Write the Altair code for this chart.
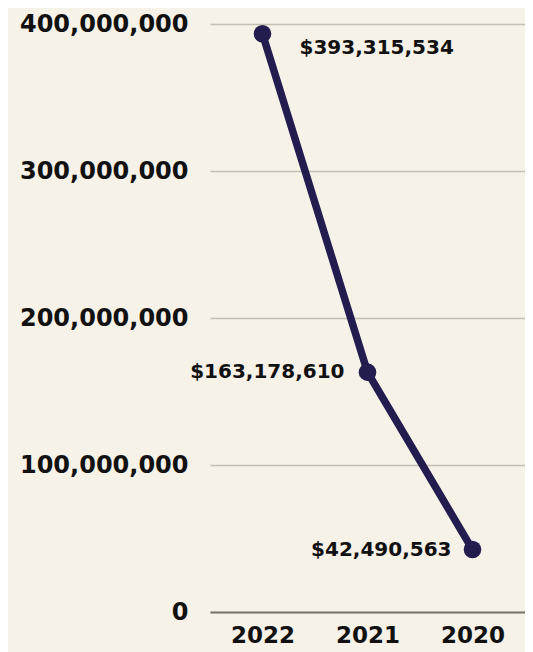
import altair as alt
import pandas as pd

years = ["2022", "2021", "2020"]
values = [393315534, 163178610, 42490563]
labels = ["$393,315,534", "$163,178,610", "$42,490,563"]

df = pd.DataFrame({"year": years, "value": values, "label": labels})

FONT = "DejaVu Sans"
NAVY = "#231c4e"
INK = "#111111"

x = alt.X("year:N", sort=years, title=None,
          scale=alt.Scale(type="point", padding=0.5),
          axis=alt.Axis(labelAngle=0, labelFontSize=23, labelFontWeight="bold",
                        labelColor=INK, labelFont=FONT, ticks=False,
                        domainColor="#7a766e", domainWidth=2, labelPadding=12))
y = alt.Y("value:Q", title=None,
          scale=alt.Scale(domain=[0, 400000000]),
          axis=alt.Axis(values=[0, 100000000, 200000000, 300000000, 400000000],
                        format=",d", labelFontSize=24, labelFontWeight="bold",
                        labelColor=INK, labelFont=FONT, ticks=False,
                        domain=False, gridColor="#c4bfb3", gridWidth=1.5,
                        labelPadding=22))

base = alt.Chart(df)
line = base.mark_line(color=NAVY, strokeWidth=7.5).encode(x=x, y=y)
pts = base.mark_circle(color=NAVY, size=310, opacity=1).encode(x=x, y=y)
t1 = base.transform_filter(alt.datum.year == "2022").mark_text(
    align="left", baseline="middle", dx=37, dy=14, fontSize=20,
    fontWeight="bold", font=FONT, color=INK).encode(x=x, y=y, text="label:N")
t2 = base.transform_filter(alt.datum.year == "2021").mark_text(
    align="right", baseline="middle", dx=-23, dy=0, fontSize=20,
    fontWeight="bold", font=FONT, color=INK).encode(x=x, y=y, text="label:N")
t3 = base.transform_filter(alt.datum.year == "2020").mark_text(
    align="right", baseline="middle", dx=-21, dy=0, fontSize=20,
    fontWeight="bold", font=FONT, color=INK).encode(x=x, y=y, text="label:N")

chart = alt.layer(line, pts, t1, t2, t3).properties(
    width=315, height=588,
    autosize=alt.AutoSizeParams(type="none"),
    padding={"left": 202, "top": 16, "right": 0, "bottom": 40},
    background="#f6f2e8",
).configure_view(stroke=None)

chart.save("out.html", embed_options={"renderer": "svg", "actions": False})
